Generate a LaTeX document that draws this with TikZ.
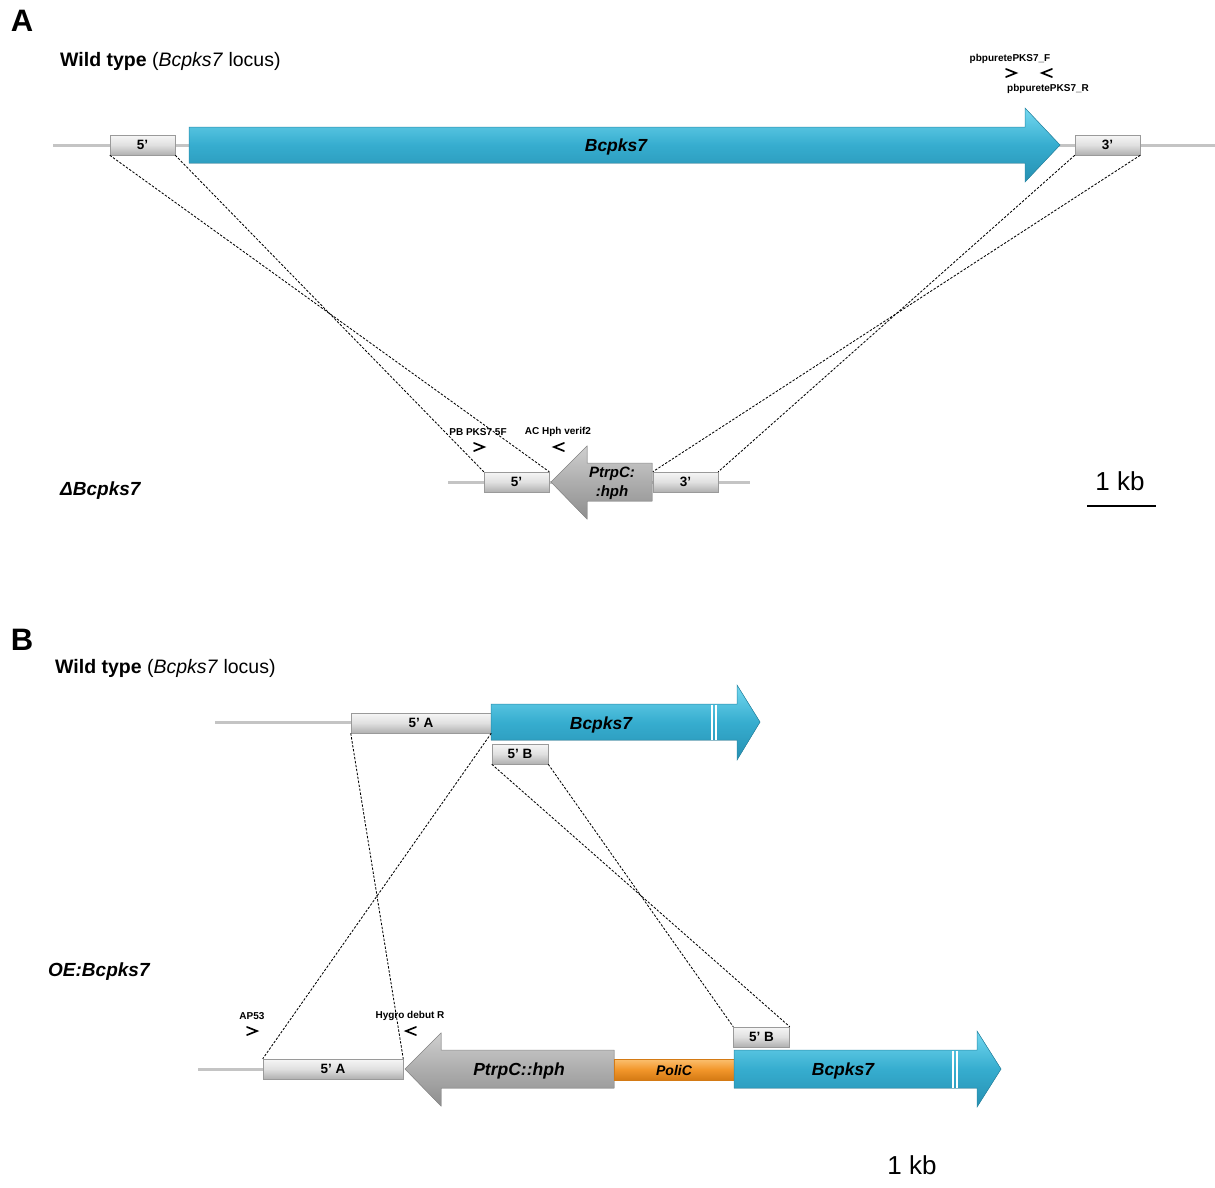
\documentclass[tikz,border=0pt]{standalone}
\usepackage{fontspec}
\setmainfont{Liberation Sans}
\usetikzlibrary{calc}
\definecolor{gline}{HTML}{C4C4C4}
\definecolor{blueM}{HTML}{36ADCF}
\definecolor{blueT}{HTML}{74D8F0}
\definecolor{blueB}{HTML}{2690B2}
\definecolor{blueE}{HTML}{2A8CAA}
\definecolor{boxT}{HTML}{F6F6F6}
\definecolor{boxM}{HTML}{E0E0E0}
\definecolor{boxB}{HTML}{B0B0B0}
\definecolor{boxE}{HTML}{9A9A9A}
\definecolor{grayT}{HTML}{CFCFCF}
\definecolor{grayM}{HTML}{ADADAD}
\definecolor{grayB}{HTML}{8E8E8E}
\definecolor{orT}{HTML}{FBC070}
\definecolor{orM}{HTML}{F2962A}
\definecolor{orB}{HTML}{D47A14}
\tikzset{
  dna/.style={gline, line width=3pt},
  gbox/.style={draw=boxE, line width=0.5pt, top color=boxT, bottom color=boxB, middle color=boxM,
    inner sep=0pt, minimum height=20pt, font=\fontsize{13.5}{13.5}\selectfont\bfseries},
  blueshape/.style={draw=blueE, line width=0.5pt, top color=blueT, bottom color=blueB, middle color=blueM},
  grayshape/.style={draw=grayB, line width=0.5pt, top color=grayT, bottom color=grayB, middle color=grayM},
  orshape/.style={draw=orB, line width=0.5pt, top color=orT, bottom color=orB, middle color=orM},
  conn/.style={line width=0.85pt, dash pattern=on 2.4pt off 1.6pt},
  primer/.style={line width=1.7pt, line cap=round},
  plab/.style={font=\fontsize{10}{10}\selectfont\bfseries, inner sep=0pt},
  genelab/.style={font=\fontsize{17.5}{17.5}\selectfont\bfseries\itshape, inner sep=0pt},
  title/.style={font=\fontsize{19.5}{19.5}\selectfont, anchor=west, inner sep=0pt},
  panel/.style={font=\fontsize{31}{31}\selectfont\bfseries, inner sep=0pt},
  strain/.style={font=\fontsize{19}{19}\selectfont\bfseries\itshape, anchor=west, inner sep=0pt},
  kb/.style={font=\fontsize{26}{26}\selectfont, inner sep=0pt},
  brk/.style={white, line width=1.6pt}
}
\begin{document}
\begin{tikzpicture}[x=1pt,y=-1pt]
\useasboundingbox (0,0) rectangle (1215,1187);
\fill[white] (0,0) rectangle (1215,1187);

%% ---------------- Panel A ----------------
\node[panel] (pA) at (22,21) {A};
\node[title] (tA) at (60,61) {\textbf{Wild type} (\textit{Bcpks7} locus)};

\draw[dna] (53,145) -- (1215,145);
\node[gbox, minimum width=65pt] (a5) at (142.5,145) {5’};
\node[gbox, minimum width=65pt] (a3) at (1107.5,145) {3’};
\filldraw[blueshape] (189,127) -- (1025,127) -- (1025,108) -- (1060,145) -- (1025,182) -- (1025,163) -- (189,163) -- cycle;
\node[genelab] (gA) at (616,147) {Bcpks7};

% primers top right
\node[plab] (pF) at (1010,59) {pbpuretePKS7\_F};
\node[plab] (pR) at (1048,89) {pbpuretePKS7\_R};
\draw[primer] (1006,69) -- (1016,73) -- (1006,77);
\draw[primer] (1052,69) -- (1042,73) -- (1052,77);

% deletion construct
\draw[dna] (448,482) -- (750,482);
\node[gbox, minimum width=65pt] (d5) at (516.5,482) {5’};
\node[gbox, minimum width=65pt] (d3) at (685.5,482) {3’};
\filldraw[grayshape] (551,482) -- (587,446) -- (587,463) -- (652,463) -- (652,501) -- (587,501) -- (587,519) -- cycle;
\node[genelab, align=center, font=\fontsize{15}{19}\selectfont\bfseries\itshape] (hA) at (612,483) {PtrpC:\\:hph};

\node[plab] (p5F) at (478,432) {PB PKS7 5F};
\node[plab] (pAC) at (558,432) {AC Hph verif2};
\draw[primer] (474,443) -- (484,447) -- (474,451);
\draw[primer] (564,443) -- (554,447) -- (564,451);

\node[strain] (sA) at (60,491) {ΔBcpks7};
\node[kb] (kA) at (1120,481) {1 kb};
\coordinate (kbL) at (1087,506);
\coordinate (kbR) at (1156,506);
\draw[line width=1.5pt] (kbL) -- (kbR);

% connectors A
\draw[conn] (a5.south west) -- (d5.north east);
\draw[conn] (a5.south east) -- (d5.north west);
\draw[conn] (a3.south west) -- (d3.north east);
\draw[conn] (a3.south east) -- (d3.north west);

%% ---------------- Panel B ----------------
\node[panel] (pB) at (22,640) {B};
\node[title] (tB) at (55,668) {\textbf{Wild type} (\textit{Bcpks7} locus)};

\draw[dna] (215,722) -- (352,722);
\node[gbox, minimum width=140pt] (wA) at (421,723) {5’ A};
\filldraw[blueshape] (491,704) -- (737,704) -- (737,685) -- (760,722) -- (737,760) -- (737,740) -- (491,740) -- cycle;
\draw[brk] (712,704.5) -- (712,739.5);
\draw[brk] (716,704.5) -- (716,739.5);
\node[genelab] (gB1) at (601,725) {Bcpks7};
\node[gbox, minimum width=56pt] (wB) at (520,754) {5’ B};

% OE construct
\draw[dna] (198,1069) -- (264,1069);
\node[gbox, minimum width=140pt] (oA) at (333,1069) {5’ A};
\filldraw[grayshape] (405,1069) -- (441,1033) -- (441,1050) -- (614,1050) -- (614,1088) -- (441,1088) -- (441,1106) -- cycle;
\node[genelab] (hB) at (519,1071) {PtrpC::hph};
\filldraw[orshape] (614,1059) rectangle (734,1080);
\node[genelab, font=\fontsize{14}{14}\selectfont\bfseries\itshape] (pol) at (674,1070) {PoliC};
\filldraw[blueshape] (734,1050) -- (977,1050) -- (977,1031) -- (1001,1069) -- (977,1107) -- (977,1088) -- (734,1088) -- cycle;
\draw[brk] (953,1050.5) -- (953,1087.5);
\draw[brk] (957,1050.5) -- (957,1087.5);
\node[genelab] (gB2) at (843,1071) {Bcpks7};
\node[gbox, minimum width=56pt] (oB) at (761.5,1037) {5’ B};

\node[plab] (pAP) at (252,1016) {AP53};
\node[plab] (pHy) at (410,1016) {Hygro debut R};
\draw[primer] (247,1027) -- (257,1031) -- (247,1035);
\draw[primer] (416,1027) -- (406,1031) -- (416,1035);

\node[strain] (sB) at (48,972) {OE:Bcpks7};
\node[kb] (kB) at (912,1165) {1 kb};

% connectors B
\draw[conn] (wA.south west) -- (oA.north east);
\draw[conn] (wA.south east) -- (oA.north west);
\draw[conn] (wB.south west) -- (oB.north east);
\draw[conn] (wB.south east) -- (oB.north west);
\end{tikzpicture}
\end{document}
